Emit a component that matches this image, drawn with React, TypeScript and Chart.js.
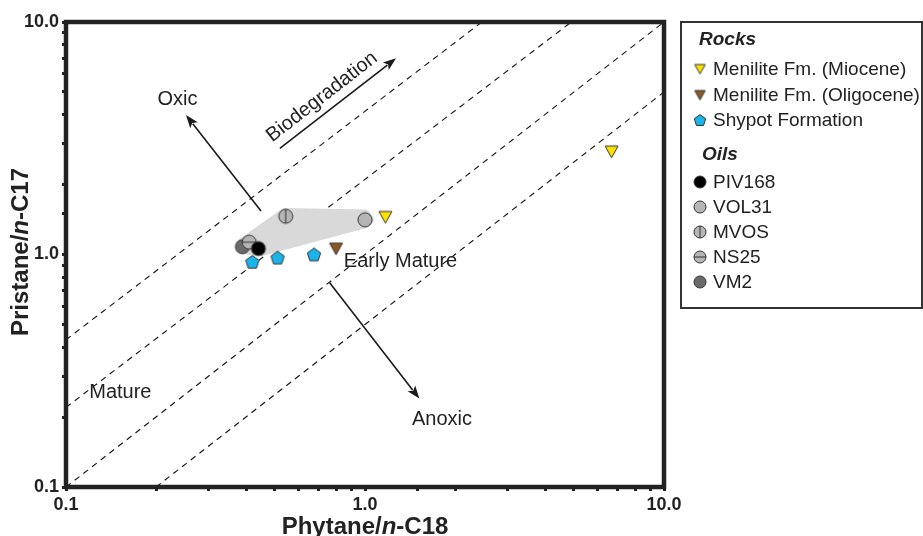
import { useEffect, useRef } from "react";
import { Chart, registerables } from "chart.js";

Chart.register(...registerables);

// ---------- data ----------
const mioceneX = [1.17, 6.68];
const mioceneY = [1.45, 2.77];
const oligoceneX = [0.8];
const oligoceneY = [1.06];
const shypotX = [0.42, 0.51, 0.675];
const shypotY = [0.93, 0.97, 1.0];
const piv168X = [0.44];
const piv168Y = [1.06];
const vol31X = [1.0];
const vol31Y = [1.41];
const mvosX = [0.543];
const mvosY = [1.46];
const ns25X = [0.41];
const ns25Y = [1.13];
const vm2X = [0.389];
const vm2Y = [1.08];

// oil family envelope
const envelopeX = [0.392, 0.54, 1.0, 1.025, 1.0, 0.45, 0.392, 0.392];
const envelopeY = [1.12, 1.5, 1.48, 1.41, 1.37, 1.04, 1.06, 1.12];

// Pr/Ph reference lines (start, end)
const ratioLineX = [
  [0.1, 2.46],
  [0.1, 4.9],
  [0.1, 10],
  [0.2, 10],
];
const ratioLineY = [
  [0.43, 10],
  [0.22, 10],
  [0.1, 10],
  [0.1, 5],
];

// arrows: [x0, y0, x1, y1]
const oxicArrow = [0.449, 1.54, 0.252, 3.98];
const biodegArrow = [0.519, 2.86, 1.27, 6.98];
const anoxicArrow = [0.762, 0.756, 1.52, 0.24];

// text annotations
const annotTexts = ["Oxic", "Mature", "Early Mature", "Anoxic"];
const annotX = [0.236, 0.152, 1.315, 1.81];
const annotY = [4.66, 0.255, 0.931, 0.196];
const biodegText = "Biodegradation";
const biodegPos = [0.718, 4.76];

const tickLabels = ["0.1", "1.0", "10.0"];
const seriesNames = [
  "Menilite Fm. (Miocene)",
  "Menilite Fm. (Oligocene)",
  "Shypot Formation",
  "PIV168",
  "VOL31",
  "MVOS",
  "NS25",
  "VM2",
];

const FONT = "'Liberation Sans', Arial, Helvetica, sans-serif";
const INK = "#222";

type Kind = "triDown" | "pentagon" | "circle" | "circleV" | "circleH";

function makeMarker(kind: Kind, fill: string, size: number): HTMLCanvasElement {
  const c = document.createElement("canvas");
  const dim = Math.ceil(size + 4);
  c.width = dim;
  c.height = dim;
  const g = c.getContext("2d")!;
  const cx = dim / 2;
  const cy = dim / 2;
  const r = size / 2;
  g.lineWidth = 1;
  g.strokeStyle = "#333";
  g.fillStyle = fill;
  g.beginPath();
  if (kind === "triDown") {
    g.moveTo(cx - r, cy - r * 0.85);
    g.lineTo(cx + r, cy - r * 0.85);
    g.lineTo(cx, cy + r * 0.95);
    g.closePath();
  } else if (kind === "pentagon") {
    for (let i = 0; i < 5; i++) {
      const a = -Math.PI / 2 + (i * 2 * Math.PI) / 5;
      const px = cx + Math.cos(a) * r;
      const py = cy + 0.6 + Math.sin(a) * r;
      if (i === 0) g.moveTo(px, py);
      else g.lineTo(px, py);
    }
    g.closePath();
  } else {
    g.arc(cx, cy, r, 0, Math.PI * 2);
  }
  g.fill();
  g.stroke();
  if (kind === "circleV") {
    g.beginPath();
    g.moveTo(cx, cy - r);
    g.lineTo(cx, cy + r);
    g.stroke();
  } else if (kind === "circleH") {
    g.beginPath();
    g.moveTo(cx - r, cy);
    g.lineTo(cx + r, cy);
    g.stroke();
  }
  return c;
}

const markerDefs: { kind: Kind; fill: string }[] = [
  { kind: "triDown", fill: "#FFE100" },
  { kind: "triDown", fill: "#8B5A24" },
  { kind: "pentagon", fill: "#1BB4EA" },
  { kind: "circle", fill: "#000000" },
  { kind: "circle", fill: "#B5B5B5" },
  { kind: "circleV", fill: "#B5B5B5" },
  { kind: "circleH", fill: "#B5B5B5" },
  { kind: "circle", fill: "#6A6A6A" },
];

const seriesX = [mioceneX, oligoceneX, shypotX, piv168X, vol31X, mvosX, ns25X, vm2X];
const seriesY = [mioceneY, oligoceneY, shypotY, piv168Y, vol31Y, mvosY, ns25Y, vm2Y];

function drawArrow(ctx: CanvasRenderingContext2D, x0: number, y0: number, x1: number, y1: number) {
  const ang = Math.atan2(y1 - y0, x1 - x0);
  const hl = 13;
  const hw = 4.8;
  const bx = x1 - Math.cos(ang) * hl;
  const by = y1 - Math.sin(ang) * hl;
  ctx.strokeStyle = "#1a1a1a";
  ctx.fillStyle = "#1a1a1a";
  ctx.lineWidth = 1.6;
  ctx.beginPath();
  ctx.moveTo(x0, y0);
  ctx.lineTo(bx + Math.cos(ang) * 2, by + Math.sin(ang) * 2);
  ctx.stroke();
  ctx.beginPath();
  ctx.moveTo(x1, y1);
  ctx.lineTo(bx + Math.sin(ang) * hw, by - Math.cos(ang) * hw);
  ctx.lineTo(bx + Math.cos(ang) * 3, by + Math.sin(ang) * 3);
  ctx.lineTo(bx - Math.sin(ang) * hw, by + Math.cos(ang) * hw);
  ctx.closePath();
  ctx.fill();
}

function drawMixed(ctx: CanvasRenderingContext2D, parts: [string, string][], cx: number, cy: number, rot: number) {
  ctx.save();
  ctx.translate(cx, cy);
  ctx.rotate(rot);
  let total = 0;
  for (const [t, f] of parts) {
    ctx.font = f;
    total += ctx.measureText(t).width;
  }
  let x = -total / 2;
  ctx.textAlign = "left";
  ctx.textBaseline = "alphabetic";
  ctx.fillStyle = INK;
  for (const [t, f] of parts) {
    ctx.font = f;
    ctx.fillText(t, x, 0);
    x += ctx.measureText(t).width;
  }
  ctx.restore();
}

function makeOverlay(legendMarkers: HTMLCanvasElement[]) {
  return {
    id: "overlay",
    afterDatasetsDraw(chart: any) {
      const { ctx, chartArea, scales } = chart;
      const sx = scales.x;
      const sy = scales.y;
      const px = (v: number) => sx.getPixelForValue(v);
      const py = (v: number) => sy.getPixelForValue(v);
      ctx.save();
      // frame
      ctx.strokeStyle = INK;
      ctx.lineWidth = 4.5;
      ctx.strokeRect(chartArea.left, chartArea.top, chartArea.right - chartArea.left, chartArea.bottom - chartArea.top);

      // arrows
      for (const a of [oxicArrow, biodegArrow, anoxicArrow]) {
        drawArrow(ctx, px(a[0]), py(a[1]), px(a[2]), py(a[3]));
      }
      // texts
      ctx.font = `20px ${FONT}`;
      ctx.fillStyle = INK;
      ctx.textAlign = "center";
      ctx.textBaseline = "middle";
      annotTexts.forEach((t, i) => {
        ctx.fillText(t, px(annotX[i]), py(annotY[i]));
      });
      const ang = Math.atan2(
        py(biodegArrow[3]) - py(biodegArrow[1]),
        px(biodegArrow[2]) - px(biodegArrow[0])
      );
      ctx.save();
      ctx.translate(px(biodegPos[0]), py(biodegPos[1]));
      ctx.rotate(ang);
      ctx.fillText(biodegText, 0, 0);
      ctx.restore();
      ctx.restore();
    },
    afterDraw(chart: any) {
      const { ctx } = chart;
      ctx.save();
      // axis titles
      const b = `bold 24px ${FONT}`;
      const bi = `italic bold 24px ${FONT}`;
      drawMixed(ctx, [["Phytane/", b], ["n", bi], ["-C18", b]], 365, 534, 0);
      drawMixed(ctx, [["Pristane/", b], ["n", bi], ["-C17", b]], 28, 252, -Math.PI / 2);

      // legend box
      ctx.strokeStyle = "#333";
      ctx.lineWidth = 2;
      ctx.strokeRect(681, 22, 241, 286);
      ctx.fillStyle = INK;
      ctx.textBaseline = "middle";
      ctx.textAlign = "left";
      ctx.font = `italic bold 19px ${FONT}`;
      ctx.fillText("Rocks", 699, 40);
      ctx.fillText("Oils", 702, 155);
      const rowY = [69, 95, 120, 182, 207, 232, 257, 282];
      ctx.font = `19px ${FONT}`;
      seriesNames.forEach((n, i) => {
        const m = legendMarkers[i];
        if (m) ctx.drawImage(m, 700 - m.width / 2, rowY[i] - m.height / 2);
        ctx.fillStyle = INK;
        ctx.fillText(n, 713, rowY[i] + 1);
      });
      ctx.restore();
    },
  };
}

export default function App() {
  const ref = useRef<HTMLCanvasElement | null>(null);
  useEffect(() => {
    if (!ref.current) return;
    const chartMarkers = markerDefs.map((d) => makeMarker(d.kind, d.fill, d.kind === "triDown" ? 13 : 14));
    const legendMarkers = markerDefs.map((d) =>
      makeMarker(d.kind, d.fill, d.kind === "triDown" ? 10.5 : 12)
    );

    const pointSets: any[] = seriesNames.map((name, i) => ({
      type: "scatter",
      label: name,
      data: seriesX[i].map((x, j) => ({ x, y: seriesY[i][j] })),
      pointStyle: chartMarkers[i],
      pointRadius: 7,
      pointHoverRadius: 7,
      order: 0,
    }));

    const envelope: any = {
      type: "line",
      label: "envelope",
      data: envelopeX.map((x, j) => ({ x, y: envelopeY[j] })),
      borderColor: "#D9D9D9",
      backgroundColor: "#D9D9D9",
      borderWidth: 11,
      borderJoinStyle: "round",
      borderCapStyle: "round",
      fill: "shape",
      pointRadius: 0,
      tension: 0,
      order: 1,
    };

    const lines: any[] = ratioLineX.map((xs, i) => ({
      type: "line",
      label: "ratio" + i,
      data: xs.map((x, j) => ({ x, y: ratioLineY[i][j] })),
      borderColor: "#111",
      borderWidth: 1.1,
      borderDash: [6, 5],
      pointRadius: 0,
      fill: false,
      order: 2,
    }));

    const tickCb = (v: any) => {
      const val = Number(v);
      const l = Math.log10(val);
      if (Math.abs(l - Math.round(l)) < 1e-6) {
        const idx = Math.round(l) + 1;
        return tickLabels[idx] ?? "";
      }
      return "";
    };

    const axisCommon = (afterFit: (s: any) => void) => ({
      type: "logarithmic" as const,
      min: 0.1,
      max: 10,
      afterFit,
      border: { display: false },
      grid: {
        drawOnChartArea: false,
        drawTicks: true,
        tickLength: 4,
        tickWidth: 3,
        tickColor: INK,
      },
      ticks: {
        autoSkip: false,
        maxRotation: 0,
        minRotation: 0,
        padding: 3,
        color: INK,
        font: { family: FONT, size: 18, weight: "bold" as const },
        callback: tickCb,
      },
    });

    const chart = new Chart(ref.current, {
      type: "scatter",
      data: { datasets: [...pointSets, envelope, ...lines] },
      options: {
        animation: false,
        responsive: false,
        maintainAspectRatio: false,
        events: [],
        layout: { padding: { top: 22, right: 259, left: 0, bottom: 0 } },
        plugins: { legend: { display: false }, tooltip: { enabled: false } },
        scales: {
          x: axisCommon((s: any) => {
            s.height = 49;
          }),
          y: axisCommon((s: any) => {
            s.width = 66;
          }),
        },
      },
      plugins: [makeOverlay(legendMarkers)],
    } as any);
    return () => chart.destroy();
  }, []);

  return (
    <div style={{ position: "absolute", left: 0, top: 0, width: 923, height: 536, background: "#fff" }}>
      <canvas ref={ref} width={923} height={536} style={{ display: "block" }} />
    </div>
  );
}
